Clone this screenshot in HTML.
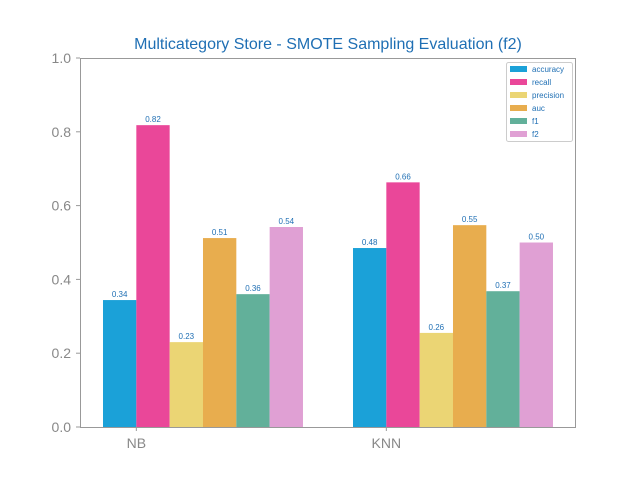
<!DOCTYPE html>
<html><head><meta charset="utf-8"><style>
body{margin:0;background:#fff;}
svg text{font-family:"Liberation Sans",sans-serif;}
</style></head><body>
<svg id="chart" width="640" height="480" xmlns="http://www.w3.org/2000/svg">
<rect width="640" height="480" fill="#fff"/>
<text x="328" y="49" text-anchor="middle" font-size="16" fill="#1f6fb4">Multicategory Store - SMOTE Sampling Evaluation (f2)</text>
<g id="bars"></g>
<g id="yaxis"></g>
<g id="xaxis"></g>
<rect x="80.5" y="58.5" width="495" height="369" fill="none" stroke="#999" stroke-width="1"/>
<g id="legend"></g>
</svg>
<script>
const categories = ["NB", "KNN"];
const metrics = ["accuracy", "recall", "precision", "auc", "f1", "f2"];
const nbValues = [0.344, 0.818, 0.23, 0.512, 0.36, 0.542];
const knnValues = [0.485, 0.663, 0.255, 0.547, 0.368, 0.50];
const yTicks = [0.0, 0.2, 0.4, 0.6, 0.8, 1.0];
const colors = ["#1ba1d8", "#ea4799", "#ebd574", "#e8ad4e", "#62b09a", "#e0a0d4"];
const series = [nbValues, knnValues];
const NS = "http://www.w3.org/2000/svg";
const y0 = 427, yTop = 58;
function yScale(v){ return y0 - v * (y0 - yTop); }
const groupStart = [103, 353], barW = 33.33;
function xBar(g, i){ return groupStart[g] + i * barW; }
function mk(tag, attrs, parent, text){
  const e = document.createElementNS(NS, tag);
  for (const k in attrs) e.setAttribute(k, attrs[k]);
  if (text !== undefined) e.textContent = text;
  parent.appendChild(e); return e;
}
const bars = document.getElementById("bars");
series.forEach((vals, g) => {
  vals.forEach((v, i) => {
    const r = mk("rect", {x: xBar(g, i), y: yScale(v), width: barW, height: y0 - yScale(v), fill: colors[i]}, bars);
    
    
    const t = mk("text", {x: xBar(g, i) + barW / 2, y: yScale(v) - 3, "text-anchor": "middle", "font-size": "8", fill: "#1f6fb4"}, bars, v.toFixed(2));
    
    
  });
});
const ya = document.getElementById("yaxis");
yTicks.forEach(v => {
  const y = yScale(v);
  mk("line", {x1: 76, x2: 80, y1: y, y2: y, stroke: "#999"}, ya);
  const t = mk("text", {x: 71, y: y + 5, "text-anchor": "end", "font-size": "14", fill: "#888"}, ya, v.toFixed(1));
  
  
});
const xa = document.getElementById("xaxis");
categories.forEach((c, g) => {
  const x = xBar(g, 1);
  mk("line", {x1: x, x2: x, y1: 427, y2: 431, stroke: "#999"}, xa);
  const t = mk("text", {x: x, y: 448, "text-anchor": "middle", "font-size": "14", fill: "#888"}, xa, c);
  
  
});
const lg = document.getElementById("legend");
const box = mk("rect", {x: 506.5, y: 62.5, width: 66, height: 79, fill: "#fff", stroke: "#ccc", rx: 2}, lg);


metrics.forEach((m, i) => {
  const y = 66 + i * 13;
  mk("rect", {x: 510, y: y, width: 17, height: 6, fill: colors[i]}, lg);
  const t = mk("text", {x: 532, y: y + 6, "font-size": "8", fill: "#1f6fb4"}, lg, m);
  
  
});
</script>
</body></html>
